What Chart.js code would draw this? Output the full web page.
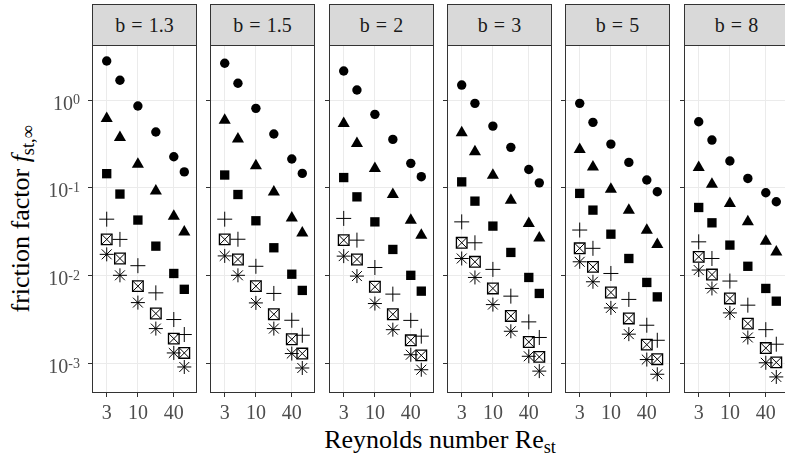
<!DOCTYPE html>
<html>
<head>
<meta charset="utf-8">
<script src="https://cdn.jsdelivr.net/npm/chart.js@4.4.1/dist/chart.umd.min.js"></script>
<style>
body { margin: 0; background: #fff; }
#wrap { position: relative; width: 785px; height: 460px; overflow: hidden; font-family: "Liberation Serif", serif; }
.strip { position: absolute; top: 4px; height: 42px; box-sizing: border-box; background: #d9d9d9; border: 1px solid #333;
  text-align: center; line-height: 40px; font-size: 20px; word-spacing: 1px; color: #1a1a1a; white-space: nowrap; }
canvas { position: absolute; }
#xtitle { position: absolute; left: 92px; width: 696px; top: 425px; text-align: center; font-size: 26px; color: #000; white-space: nowrap; }
#ytitle { position: absolute; left: 21px; top: 219px; transform: translate(-50%, -50%) rotate(-90deg); font-size: 26px; color: #000; white-space: nowrap; }
sub { font-size: 70%; vertical-align: -0.25em; line-height: 0; }
</style>
</head>
<body>
<div id="wrap">
  <div id="ytitle">friction factor <i>f</i><sub>st,∞</sub></div>
  <div id="xtitle">Reynolds number Re<sub>st</sub></div>
</div>
<script>
const reynolds = [3, 5, 10, 20, 40, 60];
const bLabels = ['b = 1.3', 'b = 1.5', 'b = 2', 'b = 3', 'b = 5', 'b = 8'];
const xTicks = [3, 10, 40];
const yTicks = [0.001, 0.01, 0.1, 1];
const yExponents = ['-3', '-2', '-1', '0'];

// one row per panel (b = 1.3 ... 8), one value per Reynolds number
const circleF = [
    [2.78, 1.68, 0.855, 0.432, 0.226, 0.152],
    [2.62, 1.55, 0.804, 0.410, 0.213, 0.146],
    [2.14, 1.30, 0.687, 0.356, 0.190, 0.134],
    [1.48, 0.916, 0.505, 0.289, 0.162, 0.114],
    [0.916, 0.557, 0.315, 0.195, 0.123, 0.0902],
    [0.566, 0.350, 0.202, 0.128, 0.0879, 0.0695]
];
const triangleF = [
    [0.616, 0.374, 0.186, 0.0923, 0.0475, 0.0315],
    [0.590, 0.359, 0.179, 0.0898, 0.0455, 0.0307],
    [0.541, 0.320, 0.166, 0.0839, 0.0429, 0.0289],
    [0.423, 0.257, 0.139, 0.0724, 0.0392, 0.0269],
    [0.273, 0.173, 0.0965, 0.0557, 0.0329, 0.0226],
    [0.170, 0.110, 0.0664, 0.0411, 0.0247, 0.0186]
];
const squareF = [
    [0.145, 0.085, 0.043, 0.0217, 0.0106, 0.0070],
    [0.140, 0.084, 0.0422, 0.0208, 0.0104, 0.0068],
    [0.131, 0.079, 0.041, 0.0199, 0.0101, 0.00667],
    [0.117, 0.0706, 0.0367, 0.0184, 0.00955, 0.00628],
    [0.0865, 0.0558, 0.0297, 0.0157, 0.00838, 0.00574],
    [0.0598, 0.040, 0.0223, 0.0128, 0.00716, 0.00513]
];
const plusF = [
    [0.044, 0.0259, 0.0130, 0.00638, 0.00317, 0.00214],
    [0.044, 0.026, 0.0128, 0.00628, 0.00311, 0.0021],
    [0.0449, 0.0254, 0.0124, 0.00617, 0.0031, 0.00205],
    [0.041, 0.0237, 0.0118, 0.00585, 0.00298, 0.00198],
    [0.0331, 0.0205, 0.0106, 0.00537, 0.00273, 0.00184],
    [0.0243, 0.0157, 0.00869, 0.00462, 0.00243, 0.00166]
];
const boxtimesF = [
    [0.0259, 0.0157, 0.0076, 0.00371, 0.00192, 0.00132],
    [0.0259, 0.0153, 0.0076, 0.00364, 0.00189, 0.0013],
    [0.0254, 0.0153, 0.00748, 0.00364, 0.00184, 0.00124],
    [0.0237, 0.0144, 0.00716, 0.00348, 0.00176, 0.00119],
    [0.0205, 0.0126, 0.00644, 0.00326, 0.00164, 0.00112],
    [0.0164, 0.0103, 0.00551, 0.00285, 0.0015, 0.00103]
];
const asteriskF = [
    [0.0175, 0.0101, 0.00494, 0.00250, 0.00132, 0.000914],
    [0.0168, 0.0101, 0.0049, 0.0025, 0.0013, 0.00089],
    [0.0167, 0.0099, 0.00482, 0.00243, 0.00126, 0.00085],
    [0.0157, 0.00955, 0.00469, 0.00233, 0.00121, 0.00082],
    [0.0144, 0.00853, 0.0043, 0.00216, 0.00111, 0.000755],
    [0.0116, 0.00716, 0.00377, 0.00198, 0.00102, 0.000704]
];

const serif = '"Liberation Serif", "Times New Roman", serif';

function pts(vals) {
    return reynolds.map(function (r, k) { return { x: r, y: vals[k] }; });
}

function marker(vals, style, radius, filled, lw) {
    return {
        data: pts(vals),
        pointStyle: style,
        pointRadius: radius,
        pointBackgroundColor: filled ? '#000' : 'rgba(0,0,0,0)',
        pointBorderColor: '#000',
        pointBorderWidth: lw,
        showLine: false
    };
}

const panelFrame = {
    id: 'panelFrame',
    afterDraw(chart) {
        const a = chart.chartArea, ctx = chart.ctx;
        ctx.save();
        ctx.strokeStyle = '#333';
        ctx.lineWidth = 1;
        ctx.strokeRect(a.left + 0.5, a.top + 0.5, a.right - a.left - 1, a.bottom - a.top - 1);
        ctx.restore();
    }
};

const yLabels = {
    id: 'yLabels',
    afterDraw(chart) {
        const ctx = chart.ctx, sc = chart.scales.y;
        const right = chart.chartArea.left - 12;
        ctx.save();
        ctx.fillStyle = '#4d4d4d';
        ctx.textAlign = 'right';
        ctx.textBaseline = 'alphabetic';
        yTicks.forEach(function (v, k) {
            const py = sc.getPixelForValue(v);
            ctx.font = '14px ' + serif;
            const w = ctx.measureText(yExponents[k]).width;
            ctx.fillText(yExponents[k], right, py + 4);
            ctx.font = '20px ' + serif;
            ctx.fillText('10', right - w, py + 9.5);
        });
        ctx.restore();
    }
};

var wrap = document.getElementById('wrap');
var areaW = 105, areaH = 348;

for (let i = 0; i < 6; i++) {
    var left = Math.round(92 + i * 118.33);

    var strip = document.createElement('div');
    strip.className = 'strip';
    strip.style.left = left + 'px';
    strip.style.width = areaW + 'px';
    strip.textContent = bLabels[i];
    wrap.appendChild(strip);

    var padL = i == 0 ? 88 : 6;
    var cv = document.createElement('canvas');
    cv.width = padL + 4 + areaW + 4;
    cv.height = areaH + 32;
    cv.style.left = (left - padL - 4) + 'px';
    cv.style.top = '45px';
    wrap.appendChild(cv);

    new Chart(cv, {
        type: 'scatter',
        data: {
            datasets: [
                marker(circleF[i], 'circle', 4.7, true, 0),
                marker(triangleF[i], 'triangle', 7, true, 0),
                marker(squareF[i], 'rect', 6.6, true, 0),
                marker(plusF[i], 'cross', 7.5, false, 1),
                marker(boxtimesF[i], 'rect', 7.5, false, 1.3),
                marker(boxtimesF[i], 'crossRot', 7.5, false, 1),
                marker(asteriskF[i], 'star', 7, false, 1)
            ]
        },
        options: {
            responsive: false,
            animation: false,
            layout: { autoPadding: false, padding: { left: padL, right: 4, top: 0, bottom: 0 } },
            plugins: { legend: { display: false }, tooltip: { enabled: false } },
            scales: {
                x: {
                    type: 'logarithmic',
                    min: 1.7,
                    max: 98,
                    border: { display: false },
                    grid: { color: '#ebebeb', tickColor: '#333', tickLength: 4 },
                    ticks: {
                        color: '#4d4d4d',
                        font: { family: serif, size: 20 },
                        padding: 5,
                        maxRotation: 0,
                        autoSkip: false,
                        callback: function (v) { return String(v); }
                    },
                    afterBuildTicks: function (s) { s.ticks = xTicks.map(function (v) { return { value: v }; }); },
                    afterFit: function (s) { s.height = 32; }
                },
                y: {
                    type: 'logarithmic',
                    min: 4.62e-4,
                    max: 4.23,
                    border: { display: false },
                    grid: { color: '#ebebeb', tickColor: '#333', tickLength: 4 },
                    ticks: { display: false },
                    afterBuildTicks: function (s) { s.ticks = yTicks.map(function (v) { return { value: v }; }); },
                    afterFit: function (s) { s.width = 4; }
                }
            }
        },
        plugins: i == 0 ? [panelFrame, yLabels] : [panelFrame]
    });
}
</script>
</body>
</html>
